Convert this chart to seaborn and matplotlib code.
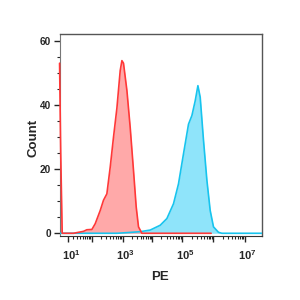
import numpy as np
import pandas as pd
import matplotlib
matplotlib.use("Agg")
import matplotlib.pyplot as plt
import matplotlib.transforms as mtransforms
import seaborn as sns

# ---- data (PE intensity vs. event count) ----
red_pe = [-180, -119, -68, 21, 53, 69, 102, 131, 190, 242, 311, 398, 508, 652, 832,
          943, 1064, 1385, 1786, 2306, 2844, 3398, 4416, 844000]
red_count = [53, 25, 0, 0, 0.6, 1.1, 1.2, 3, 7.1, 10.3, 12.3, 20.6, 30, 39, 50.7,
             53.8, 53, 44.5, 33, 19.6, 8.2, 2, 0, 0]
cyan_pe = [-185, 652, 1385, 3871, 8393, 18210, 30600, 50980, 75050, 110200, 159200,
           204600, 260900, 318200, 376800, 480300, 617200, 787000, 1003000, 1451000,
           1863000, 3.0e7]
cyan_count = [0, 0, 0.2, 0.5, 1.0, 2.5, 4.6, 9.2, 15.4, 24.8, 34, 36.7, 41.3, 46,
              42.4, 29, 16.5, 7.1, 2, 0.3, 0, 0]
x_ticks = [1e1, 1e2, 1e3, 1e4, 1e5, 1e6, 1e7]
x_ticklabels = [r"$\mathbf{10^{1}}$", "", r"$\mathbf{10^{3}}$", "", r"$\mathbf{10^{5}}$", "",
                r"$\mathbf{10^{7}}$"]
y_ticks = [0, 20, 40, 60]

# ---- biexponential-like display scale ----
C = 24.0
XV = np.array([-185, 10, 1e3, 1e5, 1e7, 3e7])
XP = np.array([0, 8.7, 63.2, 122.7, 185.2, 202.7])
XA = np.arcsinh(XV / C)

def fwd(v):
    v = np.asarray(v, dtype=float)
    return np.interp(np.arcsinh(v / C), XA, XP)

def inv(p):
    p = np.asarray(p, dtype=float)
    return C * np.sinh(np.interp(p, XP, XA))

sns.set_style("ticks")
plt.rcParams["font.family"] = ["Liberation Sans", "DejaVu Sans"]
plt.rcParams["mathtext.fontset"] = "custom"
plt.rcParams["mathtext.rm"] = "Liberation Sans"
plt.rcParams["mathtext.bf"] = "Liberation Sans:bold"

fig = plt.figure(figsize=(3, 3), dpi=100)
ax = fig.add_axes([59.5 / 300, 1 - 235.5 / 300, 202.7 / 300, 201.5 / 300])
ax.set_xscale("function", functions=(fwd, inv))

df_c = pd.DataFrame({"PE": cyan_pe, "Count": cyan_count})
df_r = pd.DataFrame({"PE": red_pe, "Count": red_count})

ax.fill_between(df_c["PE"], df_c["Count"], color="#8fe4fa", lw=0, zorder=1)
sns.lineplot(data=df_c, x="PE", y="Count", ax=ax, color="#17c4ee", lw=1.2,
             sort=False, estimator=None, zorder=3)
ax.fill_between(df_r["PE"], df_r["Count"], color="#ffa2a2", alpha=0.92, lw=0, zorder=2)
sns.lineplot(data=df_r, x="PE", y="Count", ax=ax, color="#ff3838", lw=1.2,
             sort=False, estimator=None, zorder=4)
ax.lines[-1].set_clip_on(False)

ax.set_xlim(-185, 3e7)
ax.set_ylim(-0.69, 62.1)

ax.set_xticks(x_ticks)
ax.set_xticklabels(x_ticklabels)
minors = [k * 10 ** n for n in range(1, 7) for k in range(2, 10)]
ax.set_xticks(minors, minor=True)
ax.set_yticks(y_ticks)
ax.set_yticks([v for v in range(5, 61, 5) if v % 20], minor=True)
ax.set_yticklabels([str(v) for v in y_ticks], fontweight="bold")

ax.tick_params(axis="x", which="major", length=4, width=1, pad=5, labelsize=8)
ax.tick_params(axis="x", which="minor", length=2, width=0.8)
ax.tick_params(axis="y", which="major", length=4, width=1, pad=2, labelsize=7.2)
ax.tick_params(axis="y", which="minor", length=2, width=0.8)

offset = mtransforms.ScaledTranslation(3 / 100, 0, fig.dpi_scale_trans)
for lab in ax.get_xticklabels():
    lab.set_transform(lab.get_transform() + offset)

for s in ["top", "right"]:
    ax.spines[s].set_visible(True)
    ax.spines[s].set_color("#555555")
    ax.spines[s].set_linewidth(1.0)
ax.spines["left"].set_color("#777777")
ax.spines["bottom"].set_color("#333333")

ax.set_xlabel("PE", fontsize=9.5, fontweight="bold")
ax.set_ylabel("Count", fontsize=9.5, fontweight="bold")
ax.xaxis.set_label_coords(0.496, -0.175)
ax.yaxis.set_label_coords(-0.10, 0.484)

fig.savefig("out.png", dpi=100)
